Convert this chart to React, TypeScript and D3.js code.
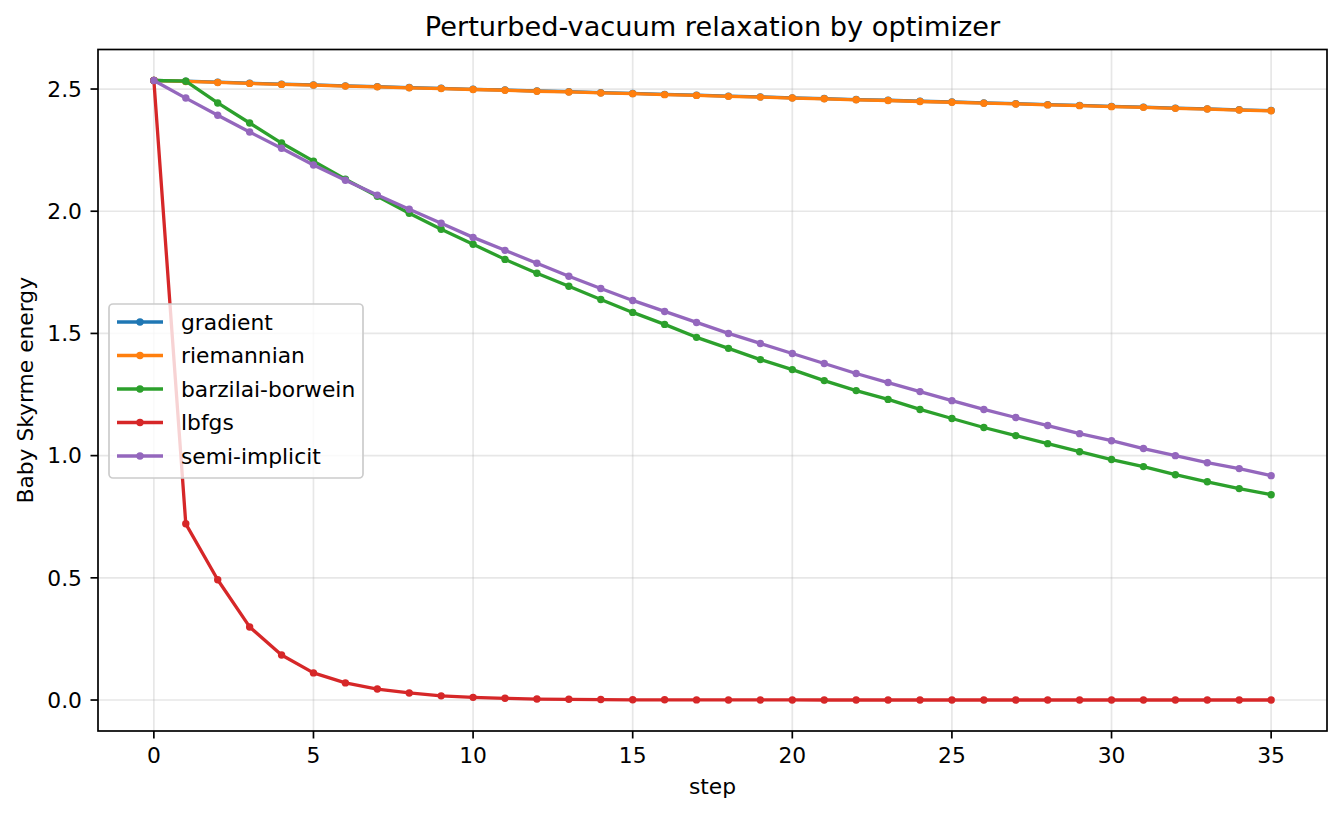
import * as d3 from "d3";
import React from "react";

const steps = d3.range(0, 36);

const gradient = [
  2.535, 2.532, 2.528, 2.524, 2.520, 2.517, 2.513, 2.510, 2.506, 2.503,
  2.499, 2.496, 2.492, 2.489, 2.485, 2.482, 2.478, 2.475, 2.471, 2.468,
  2.464, 2.461, 2.457, 2.454, 2.450, 2.447, 2.443, 2.440, 2.436, 2.433,
  2.429, 2.426, 2.422, 2.419, 2.415, 2.412,
];
const riemannian = [
  2.535, 2.531, 2.527, 2.523, 2.519, 2.516, 2.512, 2.509, 2.505, 2.502,
  2.498, 2.495, 2.491, 2.488, 2.484, 2.481, 2.477, 2.474, 2.470, 2.467,
  2.463, 2.460, 2.456, 2.453, 2.449, 2.446, 2.442, 2.439, 2.435, 2.432,
  2.428, 2.425, 2.421, 2.418, 2.414, 2.411,
];
const barzilaiBorwein = [
  2.535, 2.532, 2.443, 2.361, 2.279, 2.205, 2.131, 2.061, 1.992, 1.926,
  1.865, 1.803, 1.746, 1.693, 1.639, 1.586, 1.537, 1.484, 1.439, 1.393,
  1.352, 1.307, 1.266, 1.230, 1.189, 1.152, 1.115, 1.082, 1.049, 1.016,
  0.984, 0.955, 0.922, 0.893, 0.865, 0.840,
];
const lbfgs = [
  2.535, 0.721, 0.492, 0.299, 0.184, 0.111, 0.070, 0.045, 0.029, 0.017,
  0.011, 0.007, 0.004, 0.003, 0.002, 0.001, 0.001, 0.0005, 0.0004, 0.0003,
  0.0002, 0.0001, 0.0001, 0.0, 0.0, 0.0, 0.0, 0.0, 0.0, 0.0,
  0.0, 0.0, 0.0, 0.0, 0.0, 0.0,
];
const semiImplicit = [
  2.535, 2.463, 2.393, 2.324, 2.258, 2.189, 2.127, 2.066, 2.008, 1.951,
  1.893, 1.840, 1.787, 1.734, 1.684, 1.635, 1.590, 1.545, 1.500, 1.459,
  1.418, 1.377, 1.336, 1.299, 1.262, 1.225, 1.189, 1.156, 1.123, 1.090,
  1.061, 1.029, 1.000, 0.971, 0.947, 0.918,
];

const seriesNames = ["gradient", "riemannian", "barzilai-borwein", "lbfgs", "semi-implicit"];
const seriesValues = [gradient, riemannian, barzilaiBorwein, lbfgs, semiImplicit];
const colors = ["#1f77b4", "#ff7f0e", "#2ca02c", "#d62728", "#9467bd"];

const xTicks = [0, 5, 10, 15, 20, 25, 30, 35];
const yTicks = [0, 0.5, 1.0, 1.5, 2.0, 2.5];

const W = 1343;
const H = 816;
const left = 98, right = 1327, top = 49.5, bottom = 731;
const font = "'DejaVu Sans', sans-serif";
const fs = 21.8;

export default function App() {
  const yMax = 2.535;
  const x = d3.scaleLinear().domain([-1.75, 36.75]).range([left, right]);
  const y = d3.scaleLinear().domain([-yMax * 0.05, yMax * 1.05]).range([bottom, top]);

  const line = d3.line<number>()
    .x((_, i) => x(steps[i]))
    .y((d) => y(d));

  return (
    <div>
      <style>{`body{margin:0}`}</style>
      <svg width={W} height={H} style={{ display: "block", background: "#fff" }} fontFamily={font}>
        {/* grid */}
        {xTicks.map((t) => (
          <line key={"gx" + t} x1={x(t)} x2={x(t)} y1={top} y2={bottom} stroke="#b0b0b0" strokeOpacity={0.3} strokeWidth={1.7} />
        ))}
        {yTicks.map((t) => (
          <line key={"gy" + t} x1={left} x2={right} y1={y(t)} y2={y(t)} stroke="#b0b0b0" strokeOpacity={0.3} strokeWidth={1.7} />
        ))}

        {/* series */}
        {seriesValues.map((vals, si) => (
          <g key={seriesNames[si]}>
            <path d={line(vals) || ""} fill="none" stroke={colors[si]} strokeWidth={3.3} strokeLinejoin="round" />
            {vals.map((v, i) => (
              <circle key={i} cx={x(steps[i])} cy={y(v)} r={3.7} fill={colors[si]} />
            ))}
          </g>
        ))}

        {/* frame */}
        <rect x={left} y={top} width={right - left} height={bottom - top} fill="none" stroke="#000" strokeWidth={1.7} />

        {/* x ticks */}
        {xTicks.map((t) => (
          <g key={"xt" + t}>
            <line x1={x(t)} x2={x(t)} y1={bottom} y2={bottom + 7.5} stroke="#000" strokeWidth={1.7} />
            <text x={x(t)} y={bottom + 31.5} textAnchor="middle" fontSize={fs} fill="#000">{t}</text>
          </g>
        ))}
        {/* y ticks */}
        {yTicks.map((t) => (
          <g key={"yt" + t}>
            <line x1={left - 7.5} x2={left} y1={y(t)} y2={y(t)} stroke="#000" strokeWidth={1.7} />
            <text x={left - 16} y={y(t)} dy="0.36em" textAnchor="end" fontSize={fs} fill="#000">{t.toFixed(1)}</text>
          </g>
        ))}

        {/* labels */}
        <text x={(left + right) / 2} y={794} textAnchor="middle" fontSize={fs} fill="#000">step</text>
        <text transform={`translate(33,${(top + bottom) / 2}) rotate(-90)`} textAnchor="middle" fontSize={fs} fill="#000">Baby Skyrme energy</text>
        <text x={(left + right) / 2} y={36} textAnchor="middle" fontSize={27.2} fill="#000">Perturbed-vacuum relaxation by optimizer</text>

        {/* legend */}
        <g>
          <rect x={109} y={304} width={254} height={174} rx={4} fill="#fff" fillOpacity={0.8} stroke="#cccccc" strokeWidth={1.7} />
          {seriesNames.map((name, i) => {
            const ry = 322 + i * 33.5;
            return (
              <g key={"lg" + name}>
                <line x1={117} x2={163} y1={ry} y2={ry} stroke={colors[i]} strokeWidth={3.3} />
                <circle cx={140} cy={ry} r={3.7} fill={colors[i]} />
                <text x={181} y={ry} dy="0.36em" fontSize={fs} fill="#000">{name}</text>
              </g>
            );
          })}
        </g>
      </svg>
    </div>
  );
}
